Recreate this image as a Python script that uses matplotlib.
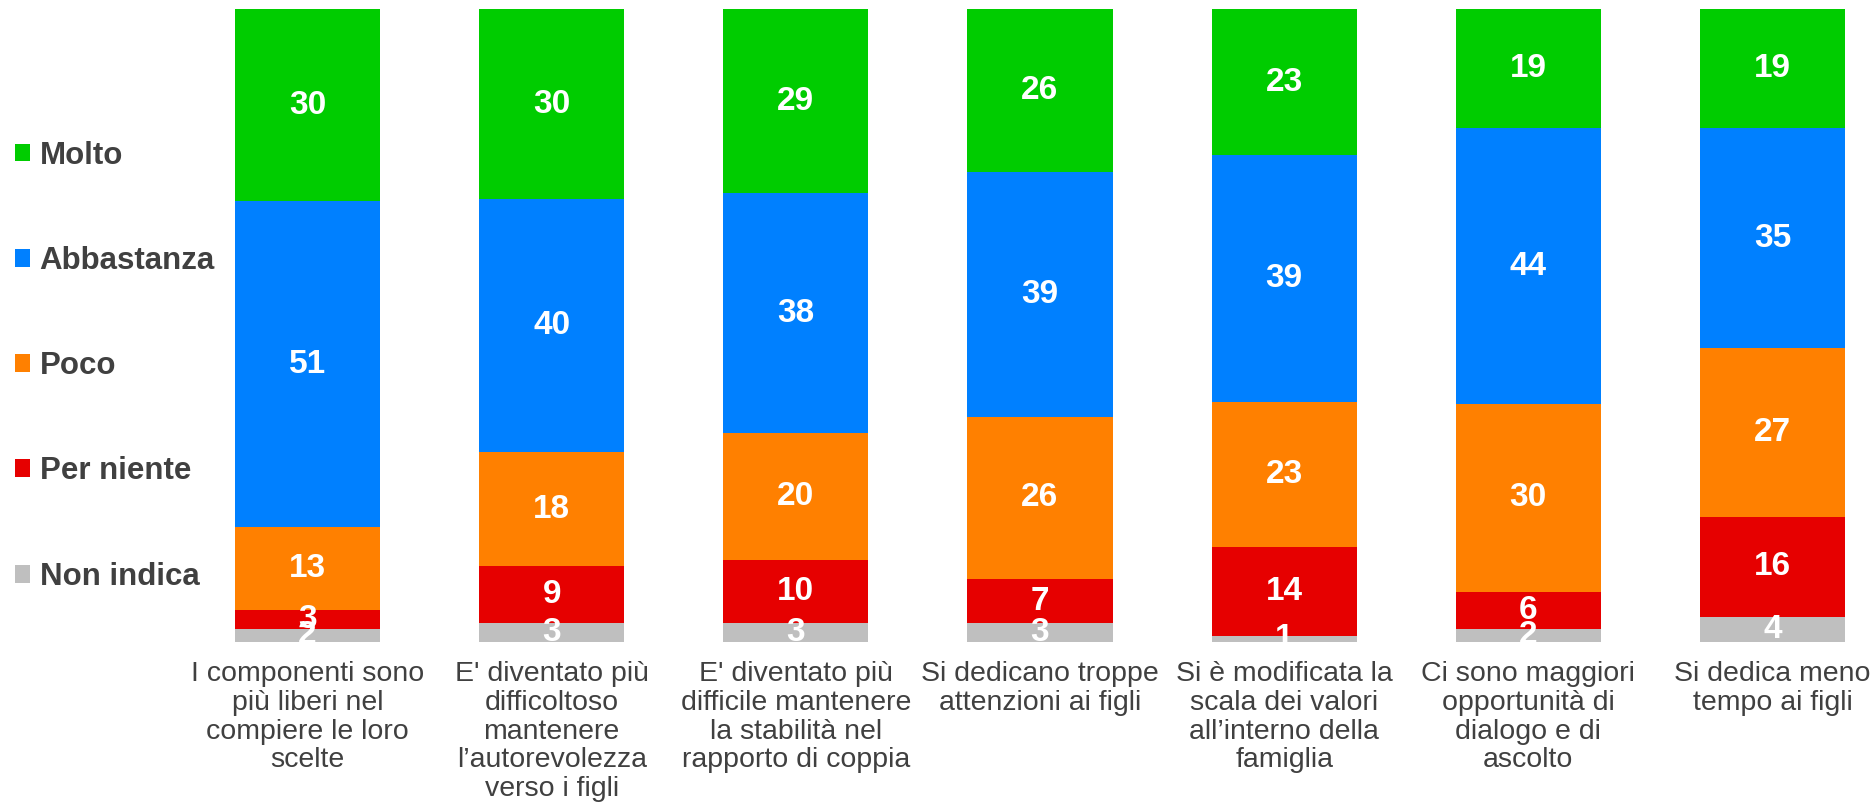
import numpy as np
import matplotlib.pyplot as plt

plt.rcParams['font.family'] = ['Liberation Sans', 'DejaVu Sans']

categories = [
    "I componenti sono\npiù liberi nel\ncompiere le loro\nscelte",
    "E' diventato più\ndifficoltoso\nmantenere\nl’autorevolezza\nverso i figli",
    "E' diventato più\ndifficile mantenere\nla stabilità nel\nrapporto di coppia",
    "Si dedicano troppe\nattenzioni ai figli",
    "Si è modificata la\nscala dei valori\nall’interno della\nfamiglia",
    "Ci sono maggiori\nopportunità di\ndialogo e di\nascolto",
    "Si dedica meno\ntempo ai figli",
]

# stacked bottom -> top
series = ["Non indica", "Per niente", "Poco", "Abbastanza", "Molto"]
non_indica = [2, 3, 3, 3, 1, 2, 4]
per_niente = [3, 9, 10, 7, 14, 6, 16]
poco = [13, 18, 20, 26, 23, 30, 27]
abbastanza = [51, 40, 38, 39, 39, 44, 35]
molto = [30, 30, 29, 26, 23, 19, 19]

colors = ["#BFBFBF", "#E60000", "#FF8000", "#0080FF", "#00CC00"]
text_col = "#404040"

values = np.array([non_indica, per_niente, poco, abbastanza, molto], dtype=float)
totals = values.sum(axis=0)
shares = values / totals * 100  # 100% stacked

W, H = 1873, 811
fig = plt.figure(figsize=(W / 100, H / 100), dpi=100)
bw = 0.594
ax = fig.add_axes([235 / W, (H - 642) / H, 1610 / W, (642 - 9.5) / H])

x = np.arange(len(categories))
bottom = np.zeros(len(categories))
handles = []
for i, name in enumerate(series):
    bars = ax.bar(x, shares[i], bw, bottom=bottom, color=colors[i],
                  edgecolor='none', label=name)
    handles.append(bars)
    for xi, b, h, v in zip(x, bottom, shares[i], values[i]):
        ax.text(xi, b + h / 2, f"{int(v)}", ha='center', va='center',
                color='white', fontsize=24, fontweight='bold')
    bottom += shares[i]

ax.set_xlim(-bw / 2, len(categories) - 1 + bw / 2)
ax.set_ylim(0, 100)
ax.set_yticks([])
ax.set_xticks(x)
ax.set_xticklabels(categories, fontsize=20.5, color=text_col, linespacing=1.13)
ax.tick_params(axis='x', length=0, pad=14)
for s in ax.spines.values():
    s.set_visible(False)

fig.legend(handles[::-1], series[::-1], loc='upper left',
           bbox_to_anchor=(2 / W, (H - 128) / H), frameon=False,
           prop={'size': 22.5, 'weight': 'bold'}, labelcolor=text_col,
           handlelength=0.5, handleheight=0.5, handletextpad=0.3,
           labelspacing=2.41, borderaxespad=0)

fig.savefig("out.png", dpi=100)
